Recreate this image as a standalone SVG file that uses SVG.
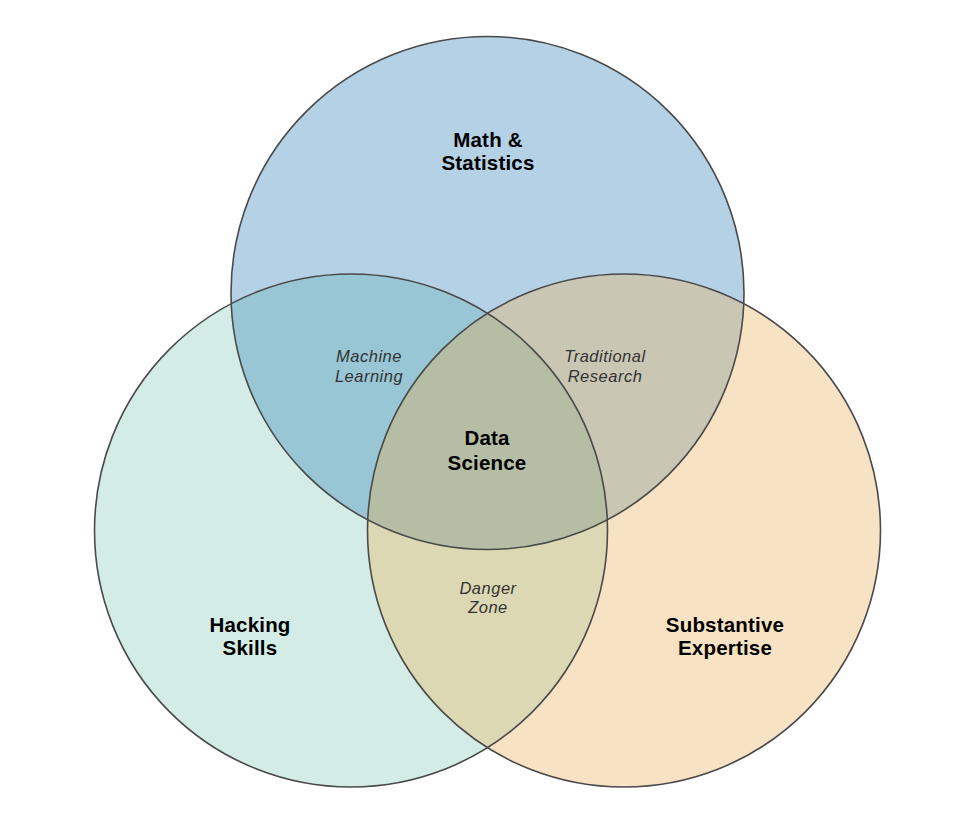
<svg xmlns="http://www.w3.org/2000/svg" width="975" height="825" viewBox="0 0 975 825">
<style>
.ring{fill:none;stroke:#4a4a4a;stroke-width:1.6}
.main{font-family:"Liberation Sans",Arial,sans-serif;font-size:20.5px;font-weight:bold;fill:#000;text-anchor:middle;letter-spacing:0.2px}
.sub{font-family:"Liberation Sans",Arial,sans-serif;font-size:16.5px;font-style:italic;fill:#333;text-anchor:middle;letter-spacing:0.5px}
</style>
<defs>
<clipPath id="cM"><circle cx="487.5" cy="293" r="256.5"/></clipPath>
<clipPath id="cH"><circle cx="351" cy="530.5" r="256.5"/></clipPath>
<clipPath id="cE"><circle cx="624" cy="530.5" r="256.5"/></clipPath>
</defs>
<rect width="975" height="825" fill="#fff"/>
<g id="fills">
<circle cx="351" cy="530.5" r="256.5" fill="#d3ece5"/>
<circle cx="624" cy="530.5" r="256.5" fill="#f8e2c4"/>
<circle cx="487.5" cy="293" r="256.5" fill="#b4d1e6"/>
<g clip-path="url(#cM)"><circle cx="351" cy="530.5" r="256.5" fill="#98c6d5"/><circle cx="624" cy="530.5" r="256.5" fill="#c9c6b3"/></g>
<g clip-path="url(#cH)"><circle cx="624" cy="530.5" r="256.5" fill="#dcd8b4"/></g>
<g clip-path="url(#cM)"><g clip-path="url(#cH)"><circle cx="624" cy="530.5" r="256.5" fill="#b5bea4"/></g></g>
</g>
<g id="math">
<circle class="ring" cx="487.5" cy="293" r="256.5"/>
<text class="main" x="488" y="147">Math &amp;</text>
<text class="main" x="488" y="170">Statistics</text>
</g>
<g id="hacking">
<circle class="ring" cx="351" cy="530.5" r="256.5"/>
<text class="main" x="250" y="632">Hacking</text>
<text class="main" x="250" y="655">Skills</text>
</g>
<g id="expertise">
<circle class="ring" cx="624" cy="530.5" r="256.5"/>
<text class="main" x="725" y="632">Substantive</text>
<text class="main" x="725" y="655">Expertise</text>
</g>
<g id="machine-learning">
<text class="sub" x="369" y="362">Machine</text>
<text class="sub" x="369" y="382">Learning</text>
</g>
<g id="traditional-research">
<text class="sub" x="605" y="362">Traditional</text>
<text class="sub" x="605" y="382">Research</text>
</g>
<g id="danger-zone">
<text class="sub" x="488" y="594">Danger</text>
<text class="sub" x="488" y="613">Zone</text>
</g>
<g id="data-science">
<text class="main" x="487" y="445">Data</text>
<text class="main" x="487" y="470">Science</text>
</g>
<g id="connectors"/>
</svg>
